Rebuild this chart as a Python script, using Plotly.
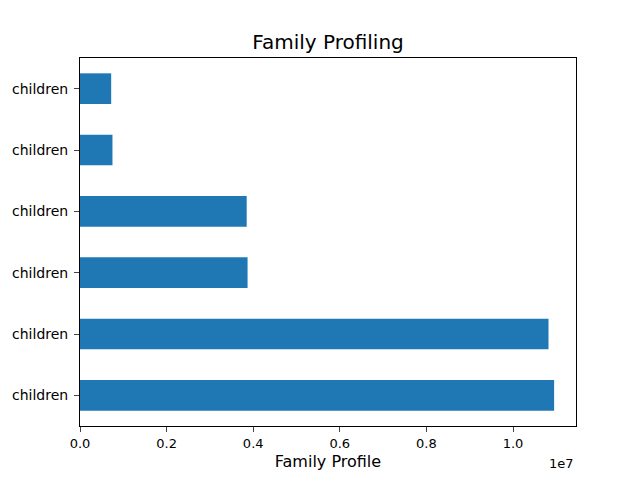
import plotly.graph_objects as go

categories = ['Married, has children', 'Single, has children', 'Married, no children',
              'Single, no children', 'Divorced, has children', 'Widowed, has children']
values = [10950000, 10820000, 3870000, 3850000, 750000, 720000]
tick_vals = [0, 2e6, 4e6, 6e6, 8e6, 1e7]
tick_text = ['0.0', '0.2', '0.4', '0.6', '0.8', '1.0']

fig = go.Figure(go.Bar(x=values, y=list(range(len(categories))), orientation='h',
                       width=0.5, marker_color='#1f77b4', marker_line_width=0,
                       showlegend=False))

fig.update_layout(
    width=632, height=472,
    paper_bgcolor='white', plot_bgcolor='white',
    font=dict(family='DejaVu Sans', color='black', size=13),
    title=dict(text='Family Profiling', x=0.5, xanchor='center', xref='paper',
               y=0.928, yanchor='middle', font=dict(size=20)),
    margin=dict(l=72, r=64, t=50, b=54),
    xaxis=dict(range=[0, 1.1455e7], tickvals=tick_vals, ticktext=tick_text,
               showgrid=False, zeroline=False, showline=True, mirror=True,
               linecolor='black', linewidth=1, ticks='outside', ticklen=5,
               title=dict(text='Family Profile', font=dict(size=16), standoff=6)),
    yaxis=dict(range=[-0.5, 5.5], tickvals=list(range(len(categories))), ticktext=categories,
               showgrid=False, zeroline=False, showline=True, mirror=True,
               linecolor='black', linewidth=1, ticks='outside', ticklen=5,
               ticklabelstandoff=3, tickfont=dict(size=14), automargin=False),
    annotations=[dict(text='1e7', xref='paper', yref='paper', x=1, y=-0.075,
                      xanchor='right', yanchor='top', showarrow=False, font=dict(size=13))],
)

fig.write_html('out.html')
